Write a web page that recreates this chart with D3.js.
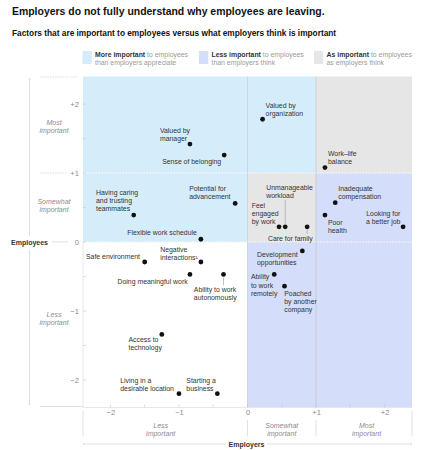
<!DOCTYPE html>
<html><head><meta charset="utf-8">
<script src="https://cdn.jsdelivr.net/npm/d3@7"></script>
<style>
html,body{margin:0;padding:0;background:#fff;}
svg{display:block;font-family:"Liberation Sans",Arial,sans-serif;}
</style></head>
<body><svg id="c" width="431" height="450"></svg>
<script>
// ---- data ----
const factors = ["Valued by manager","Sense of belonging","Having caring and trusting teammates","Flexible work schedule","Potential for advancement","Valued by organization","Work–life balance","Inadequate compensation","Poor health","Looking for a better job","Feel engaged by work","Unmanageable workload","Care for family","Safe environment","Negative interactions¹","Doing meaningful work","Ability to work autonomously","Access to technology","Living in a desirable location","Starting a business","Development opportunities","Ability to work remotely","Poached by another company"];
const employersValues = [-0.84,-0.34,-1.66,-0.68,-0.18,0.22,1.13,1.28,1.13,2.27,0.46,0.55,0.87,-1.50,-0.68,-0.84,-0.35,-1.25,-1.00,-0.44,0.80,0.39,0.54];
const employeesValues = [1.42,1.26,0.39,0.04,0.56,1.78,1.08,0.57,0.39,0.22,0.22,0.22,0.22,-0.29,-0.29,-0.47,-0.47,-1.34,-2.20,-2.20,-0.13,-0.47,-0.64];
const tickValues = [-2,-1,0,1,2];
const tickLabels = ["−2","−1","0","+1","+2"];
const levelLabels = ["Less important","Somewhat important","Most important"];
const legendItems = [["More important"," to employees","than employers appreciate"],["Less important"," to employees","than employers think"],["As important"," to employees","as employers think"]];

// ---- layout (not data) ----
const labelLayout = {
 "Valued by manager":{lines:["Valued by","manager"],dx:-30,dy:[-11,-3]},
 "Sense of belonging":{lines:["Sense of belonging"],anchor:"end",dx:-3,dy:[8.5]},
 "Having caring and trusting teammates":{lines:["Having caring","and trusting","teammates"],dx:-37.7,dy:[-20,-12,-4]},
 "Flexible work schedule":{lines:["Flexible work schedule"],anchor:"end",dx:-4,dy:[-4]},
 "Potential for advancement":{lines:["Potential for","advancement"],dx:-46,dy:[-12,-4]},
 "Valued by organization":{lines:["Valued by","organization"],dx:3,dy:[-11,-3]},
 "Work–life balance":{lines:["Work–life","balance"],dx:3,dy:[-12,-4]},
 "Inadequate compensation":{lines:["Inadequate","compensation"],dx:3,dy:[-11.5,-3.5]},
 "Poor health":{lines:["Poor","health"],dx:3,dy:[10,18]},
 "Looking for a better job":{lines:["Looking for","a better job"],anchor:"end",dx:-2.7,dy:[-11,-3]},
 "Feel engaged by work":{lines:["Feel","engaged","by work"],dx:-27.3,dy:[-19,-11,-3]},
 "Unmanageable workload":{lines:["Unmanageable","workload"],dx:-19,dy:[-37,-29],leader:[-3,-27]},
 "Care for family":{lines:["Care for family"],anchor:"end",dx:5.6,dy:[14],leader:[3,7]},
 "Safe environment":{lines:["Safe environment"],anchor:"end",dx:-4.7,dy:[-2.5]},
 "Negative interactions¹":{lines:["Negative","interactions¹"],dx:-40.7,dy:[-10,-2]},
 "Doing meaningful work":{lines:["Doing meaningful work"],anchor:"end",dx:-2.3,dy:[9.5]},
 "Ability to work autonomously":{lines:["Ability to work","autonomously"],dx:-29.7,dy:[18,26],leader:[3,11]},
 "Access to technology":{lines:["Access to","technology"],dx:-33.3,dy:[7.5,15.5]},
 "Living in a desirable location":{lines:["Living in a","desirable location"],dx:-58.7,dy:[-11,-3]},
 "Starting a business":{lines:["Starting a","business"],dx:-31,dy:[-11,-3]},
 "Development opportunities":{lines:["Development","opportunities"],dx:-45.3,dy:[6,14]},
 "Ability to work remotely":{lines:["Ability","to work","remotely"],dx:-23.3,dy:[5,13.3,21.5]},
 "Poached by another company":{lines:["Poached","by another","company"],dx:-0.3,dy:[10,18,26]}
};

const svg = d3.select("#c");
const x = d3.scaleLinear().domain([-2.4,2.4]).range([83,412]);
const y = d3.scaleLinear().domain([-2.4,2.4]).range([407.5,76.5]);
const C = {blue:"#d5edfb", lav:"#d4ddf9", gray:"#e6e6e6"};

// title
svg.append("text").attr("x",12).attr("y",14.5).attr("font-size",10.45).attr("font-weight","bold").attr("fill","#111")
  .text("Employers do not fully understand why employees are leaving.");
svg.append("text").attr("x",12).attr("y",35.5).attr("font-size",8.3).attr("font-weight","bold").attr("fill","#111")
  .text("Factors that are important to employees versus what employers think is important");

// legend
const legX = [82.5,199,314];
const legCols = [C.blue,C.lav,C.gray];
legendItems.forEach((it,i)=>{
  svg.append("rect").attr("x",legX[i]).attr("y",51).attr("width",9.3).attr("height",13).attr("fill",legCols[i]);
  const t = svg.append("text").attr("x",legX[i]+12.5).attr("y",57).attr("font-size",6.9).attr("fill","#9a9a9a");
  t.append("tspan").attr("font-weight","bold").attr("fill","#333").text(it[0]);
  t.append("tspan").text(it[1]);
  svg.append("text").attr("x",legX[i]+12.5).attr("y",64.5).attr("font-size",6.9).attr("fill","#9a9a9a").text(it[2]);
});

// regions
const regions = [
 {x0:-2.4,x1:0,y0:0,y1:2.4,c:C.blue},
 {x0:0,x1:1,y0:1,y1:2.4,c:C.blue},
 {x0:1,x1:2.4,y0:1,y1:2.4,c:C.gray},
 {x0:0,x1:1,y0:0,y1:1,c:C.gray},
 {x0:1,x1:2.4,y0:0,y1:1,c:C.lav},
 {x0:0,x1:2.4,y0:-2.4,y1:0,c:C.lav}
];
svg.append("g").selectAll("rect").data(regions).join("rect")
  .attr("x",d=>x(d.x0)).attr("y",d=>y(d.y1)).attr("width",d=>x(d.x1)-x(d.x0)).attr("height",d=>y(d.y0)-y(d.y1))
  .attr("fill",d=>d.c);

// inner grid lines
const g = svg.append("g");
[1,0].forEach(v=>{
  g.append("line").attr("x1",x(-2.4)).attr("x2",x(2.4)).attr("y1",y(v)).attr("y2",y(v))
   .attr("stroke","#fff").attr("stroke-width",0.9).attr("stroke-dasharray","2,1");
  g.append("line").attr("x1",x(-2.4)).attr("x2",x(2.4)).attr("y1",y(v)).attr("y2",y(v))
   .attr("stroke","#c9ced6").attr("stroke-width",0.5).attr("stroke-dasharray","1,2").attr("opacity",0.7);
});
g.append("line").attr("x1",x(0)).attr("x2",x(0)).attr("y1",y(2.4)).attr("y2",y(-2.4)).attr("stroke","#c5cfd8").attr("stroke-width",0.8);
g.append("line").attr("x1",x(1)).attr("x2",x(1)).attr("y1",y(2.4)).attr("y2",y(-2.4)).attr("stroke","#c8c8cc").attr("stroke-width",0.8);
g.append("line").attr("x1",x(-2.4)).attr("x2",x(2.4)).attr("y1",y(-2.4)).attr("y2",y(-2.4)).attr("stroke","#e2e2e2").attr("stroke-width",0.8);
g.append("line").attr("x1",x(-2.4)).attr("x2",x(-2.4)).attr("y1",y(0)).attr("y2",y(-2.4)).attr("stroke","#e2e2e2").attr("stroke-width",0.8);

// minor ticks
const minor = d3.range(-2,2.01,0.5);
g.selectAll(".mty").data(minor).join("line").attr("x1",x(-2.4)).attr("x2",x(-2.4)+3).attr("y1",d=>y(d)).attr("y2",d=>y(d)).attr("stroke","#c2c6cc").attr("stroke-width",0.6);
g.selectAll(".mtx").data(minor).join("line").attr("y1",y(-2.4)).attr("y2",y(-2.4)-3).attr("x1",d=>x(d)).attr("x2",d=>x(d)).attr("stroke","#c2c6cc").attr("stroke-width",0.6);

// y axis labels via d3 axis
const yAx = svg.append("g").attr("transform","translate(79,0)")
  .call(d3.axisLeft(y).tickValues(tickValues).tickSize(0).tickPadding(0).tickFormat((d,i)=>tickLabels[i]));
yAx.select(".domain").remove();
yAx.selectAll("text").attr("font-size",7.6).attr("fill","#8a8a8a").attr("font-family","Liberation Sans, Arial, sans-serif");

// x axis labels via d3 axis
const xAx = svg.append("g").attr("transform","translate(0,410)")
  .call(d3.axisBottom(x).tickValues(tickValues).tickSize(0).tickPadding(0).tickFormat((d,i)=>tickLabels[i]));
xAx.select(".domain").remove();
xAx.selectAll("text").attr("font-size",7.6).attr("fill","#8a8a8a").attr("font-family","Liberation Sans, Arial, sans-serif");

// left margin decorations
const m = svg.append("g").attr("stroke","#d2d2d2").attr("stroke-width",0.7);
m.append("line").attr("x1",40).attr("x2",78).attr("y1",y(2.4)+0.5).attr("y2",y(2.4)+0.5).attr("stroke-dasharray","1.5,1");
m.append("line").attr("x1",40).attr("x2",67).attr("y1",y(1)).attr("y2",y(1)).attr("stroke-dasharray","1.5,1");
m.append("line").attr("x1",40).attr("x2",83).attr("y1",y(-2.4)-1).attr("y2",y(-2.4)-1);
m.append("line").attr("x1",52).attr("x2",68).attr("y1",y(0)).attr("y2",y(0));
m.append("line").attr("x1",29.5).attr("x2",29.5).attr("y1",78).attr("y2",236);
m.append("line").attr("x1",29.5).attr("x2",29.5).attr("y1",250).attr("y2",405);
m.append("line").attr("x1",28.5).attr("x2",30.5).attr("y1",79).attr("y2",79);
m.append("line").attr("x1",28.5).attr("x2",30.5).attr("y1",404.5).attr("y2",404.5);
// bottom decorations
[[x(-2.4),411],[x(0),420],[x(1),420],[x(2.4),411]].forEach(p=>{
  m.append("line").attr("x1",p[0]).attr("x2",p[0]).attr("y1",p[1]).attr("y2",436.5);
});
m.append("line").attr("x1",83).attr("x2",226).attr("y1",444).attr("y2",444);
m.append("line").attr("x1",267).attr("x2",412).attr("y1",444).attr("y2",444);
m.append("line").attr("x1",83.5).attr("x2",83.5).attr("y1",443).attr("y2",445);
m.append("line").attr("x1",411.5).attr("x2",411.5).attr("y1",443).attr("y2",445);

svg.append("text").attr("x",48).attr("y",244.5).attr("text-anchor","end").attr("font-size",7).attr("font-weight","bold").attr("fill","#333").text("Employees");
svg.append("text").attr("x",246.5).attr("y",446.5).attr("text-anchor","middle").attr("font-size",7).attr("font-weight","bold").attr("fill","#333").text("Employers");

// level labels
function twoLine(xp,yp,txt){
  const w = txt.split(" ");
  const t = svg.append("text").attr("text-anchor","middle").attr("font-size",7).attr("font-style","italic").attr("fill","#8c8c8c");
  t.append("tspan").attr("x",xp).attr("y",yp).text(w[0]);
  t.append("tspan").attr("x",xp).attr("y",yp+8.3).text(w[1]);
}
twoLine(54,125,levelLabels[2]);
twoLine(54,204,levelLabels[1]);
twoLine(54,316.5,levelLabels[0]);
twoLine(160.7,428,levelLabels[0]);
twoLine((x(0)+x(1))/2,428,levelLabels[1]);
twoLine(366.5,428,levelLabels[2]);

// points
const pts = factors.map((f,i)=>({name:f,ex:employersValues[i],ey:employeesValues[i]}));
const pg = svg.append("g");
pts.forEach(p=>{
  const L = labelLayout[p.name]; const px=x(p.ex), py=y(p.ey);
  if(L.leader){
    pg.append("line").attr("x1",px).attr("x2",px).attr("y1",py+L.leader[0]).attr("y2",py+L.leader[1]).attr("stroke","#9a9a9a").attr("stroke-width",0.6);
  }
  const t = pg.append("text").attr("font-size",6.9).attr("fill","#333").attr("text-anchor",L.anchor||"start");
  L.lines.forEach((ln,j)=>t.append("tspan").attr("x",px+L.dx).attr("y",py+L.dy[j]).text(ln));
});
pg.selectAll("circle").data(pts).join("circle").attr("cx",d=>x(d.ex)).attr("cy",d=>y(d.ey)).attr("r",2.4).attr("fill","#111");
</script></body></html>
